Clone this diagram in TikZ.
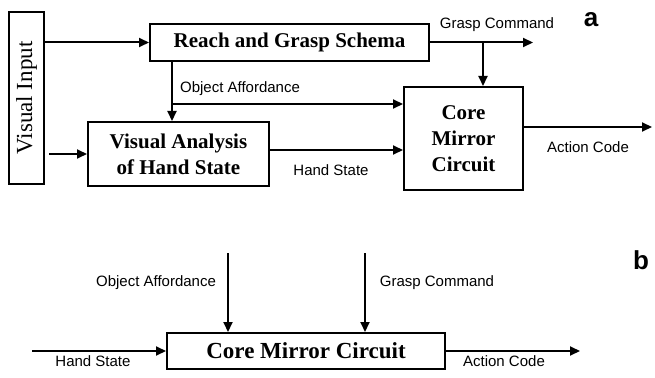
\documentclass[tikz,border=0pt]{standalone}
\usepackage{fontspec}
\setmainfont{Liberation Serif}
\setsansfont{Liberation Sans}
\usetikzlibrary{arrows.meta,positioning,calc}

\begin{document}
\begin{tikzpicture}[
  x=1pt,y=-1pt,
  flow/.style={-{Triangle[length=10pt,width=9pt]},line width=2pt},
  block/.style={draw,line width=2pt,fill=white,align=center,inner sep=0pt,
    font=\bfseries\fontsize{21}{26}\selectfont},
  tag/.style={font=\sffamily\fontsize{15}{17}\selectfont,inner sep=0pt},
  panel/.style={font=\sffamily\bfseries\fontsize{26}{28}\selectfont,inner sep=0pt}
]
  \useasboundingbox (0,0) rectangle (655,377);

  % (a) full mirror neuron model
  \node[draw,line width=2pt,rotate=90,minimum width=172pt,minimum height=35pt,
    inner sep=0pt,font=\fontsize{23}{25}\selectfont] (input) at (26.5,98) {Visual Input};
  \node[block,minimum width=279pt,minimum height=37pt] (schema) at (289.5,42.5)
    {Reach and Grasp Schema};
  \node[block,minimum width=181pt,minimum height=64pt] (analysis) at (178.5,154)
    {Visual Analysis\\of Hand State};
  \node[block,minimum width=119pt,minimum height=103pt] (core) at (463.5,138.5)
    {Core\\Mirror\\Circuit};

  \coordinate (aff) at (172,104);
  \coordinate (grasp) at (483,42.5);
  \coordinate (grasp-out) at (533,42.5);
  \coordinate (act-out) at (652,127);

  \draw[flow] (input.south |- schema.west) -- (schema.west);
  \draw[flow] ($(input.south |- analysis.west)+(4,0)$) -- (analysis.west);
  \draw[flow] (schema.south -| aff) -- (analysis.north -| aff);
  \draw[flow] (aff) -- (core.west |- aff);
  \draw[flow] (schema.east) -- (grasp-out);
  \draw[flow] (grasp) -- (core.north -| grasp);
  \draw[flow] ($(analysis.east)+(0,-4)$) -- ($(core.west |- analysis.east)+(0,-4)$);
  \draw[flow] (core.east |- act-out) -- (act-out);

  \node[tag] (aff-a) at (240,89) {Object Affordance};
  \node[tag] (grasp-a) at (497,25) {Grasp Command};
  \node[tag] (hand-a) at (331,170) {Hand State};
  \node[tag] (act-a) at (588,147) {Action Code};
  \node[panel] (label-a) at (591,20) {a};

  % (b) core mirror circuit alone
  \node[block,minimum width=278pt,minimum height=36pt,
    font=\bfseries\fontsize{23}{25}\selectfont] (core-b) at (306,351) {Core Mirror Circuit};

  \coordinate (hand-in) at (32,351);
  \coordinate (aff-in) at (228,253);
  \coordinate (grasp-in) at (365,253);
  \coordinate (act-end) at (580,351);

  \draw[flow] (hand-in) -- (core-b.west);
  \draw[flow] (aff-in) -- (core-b.north -| aff-in);
  \draw[flow] (grasp-in) -- (core-b.north -| grasp-in);
  \draw[flow] (core-b.east) -- (act-end);

  \node[tag] (aff-b) at (156,283) {Object Affordance};
  \node[tag] (grasp-b) at (437,283) {Grasp Command};
  \node[tag] (hand-b) at (93,361) {Hand State};
  \node[tag] (act-b) at (504,361) {Action Code};
  \node[panel] (label-b) at (641,260) {b};
\end{tikzpicture}
\end{document}
